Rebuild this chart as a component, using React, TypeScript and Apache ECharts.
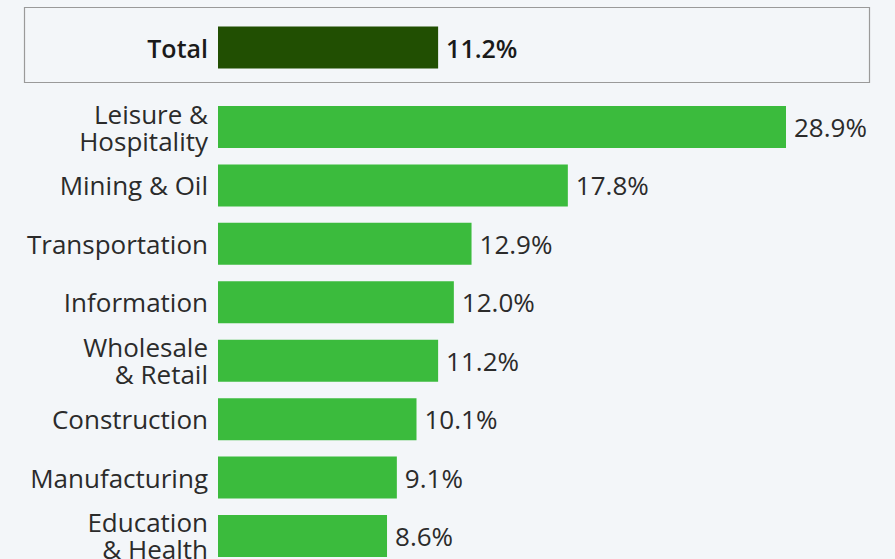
import React, { useEffect, useRef } from "react";
import * as echarts from "echarts";

const totalCategory = ["Total"];
const totalValue = [11.2];
const categories = [
  "Leisure &\nHospitality",
  "Mining & Oil",
  "Transportation",
  "Information",
  "Wholesale\n& Retail",
  "Construction",
  "Manufacturing",
  "Education\n& Health",
];
const values = [28.9, 17.8, 12.9, 12.0, 11.2, 10.1, 9.1, 8.6];

const FONT = "'Open Sans', 'Noto Sans', sans-serif";
const X_MAX = 30;
const PX_PER_UNIT = 568 / 28.9;

export default function App() {
  const ref = useRef<HTMLDivElement>(null);
  useEffect(() => {
    if (!ref.current) return;
    const chart = echarts.init(ref.current, null, { renderer: "svg" });
    const gridWidth = X_MAX * PX_PER_UNIT;
    const labelFmt = (v: number) => v.toFixed(1) + "%";
    chart.setOption({
      animation: false,
      backgroundColor: "#f3f6f9",
      textStyle: { fontFamily: FONT },
      graphic: [
        {
          type: "rect",
          shape: { x: 24.5, y: 7.5, width: 845, height: 75 },
          style: { fill: "none", stroke: "#9a9a9a", lineWidth: 1.2 },
          z: 0,
        },
      ],
      grid: [
        { left: 218, top: 18.5, width: gridWidth, height: 58 },
        { left: 218, top: 97.8, width: gridWidth, height: 467.4 },
      ],
      xAxis: [0, 1].map((i) => ({
        type: "value",
        gridIndex: i,
        min: 0,
        max: X_MAX,
        show: false,
        splitLine: { show: false },
      })),
      yAxis: [
        {
          type: "category",
          gridIndex: 0,
          data: totalCategory,
          inverse: true,
          axisLine: { show: false },
          axisTick: { show: false },
          axisLabel: {
            margin: 10,
            fontSize: 25,
            fontWeight: 600,
            color: "#1a1a1a",
            fontFamily: FONT,
          },
        },
        {
          type: "category",
          gridIndex: 1,
          data: categories,
          inverse: true,
          axisLine: { show: false },
          axisTick: { show: false },
          axisLabel: {
            margin: 10,
            fontSize: 26,
            lineHeight: 27,
            color: "#2b2b2b",
            fontFamily: FONT,
            align: "right",
          },
        },
      ],
      series: [
        {
          type: "bar",
          xAxisIndex: 0,
          yAxisIndex: 0,
          data: totalValue,
          barWidth: 42,
          itemStyle: { color: "#214f02" },
          label: {
            show: true,
            position: "right",
            distance: 8,
            fontSize: 25,
            fontWeight: 600,
            color: "#1a1a1a",
            fontFamily: FONT,
            formatter: (p: any) => labelFmt(p.value),
          },
        },
        {
          type: "bar",
          xAxisIndex: 1,
          yAxisIndex: 1,
          data: values,
          barWidth: 42,
          itemStyle: { color: "#3bbb3d" },
          label: {
            show: true,
            position: "right",
            distance: 8,
            fontSize: 26,
            color: "#2b2b2b",
            fontFamily: FONT,
            formatter: (p: any) => labelFmt(p.value),
          },
        },
      ],
    });
    return () => chart.dispose();
  }, []);
  return (
    <div
      ref={ref}
      style={{ position: "fixed", left: 0, top: 0, width: 895, height: 620 }}
    />
  );
}
